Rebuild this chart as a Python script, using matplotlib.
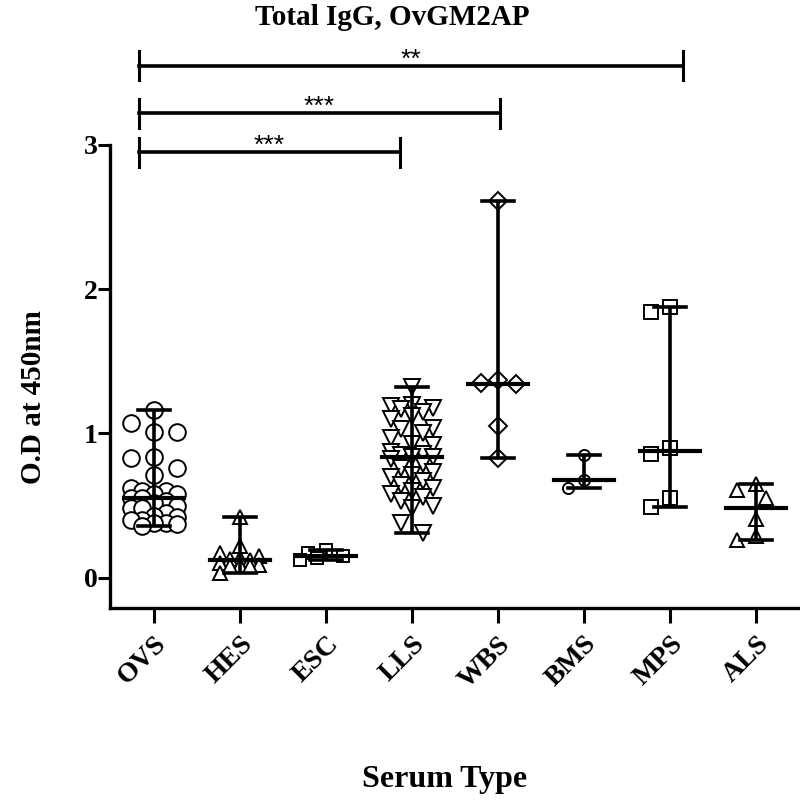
import numpy as np
import matplotlib.pyplot as plt

plt.rcParams['font.family'] = 'Liberation Serif'

# values (O.D at 450nm)
categories = ['OVS', 'HES', 'ESC', 'LLS', 'WBS', 'BMS', 'MPS', 'ALS']
ovs = [1.16, 1.07, 1.01, 1.01, 0.84, 0.83, 0.76, 0.71, 0.62, 0.60, 0.60, 0.58, 0.58,
       0.55, 0.55, 0.53, 0.52, 0.50, 0.48, 0.48, 0.45, 0.43, 0.42, 0.40, 0.40, 0.38,
       0.38, 0.37, 0.36]
hes = [0.42, 0.22, 0.17, 0.15, 0.14, 0.13, 0.12, 0.10, 0.09, 0.09, 0.08, 0.08, 0.03]
esc = [0.19, 0.17, 0.15, 0.14, 0.12]
lls = [1.32, 1.20, 1.19, 1.18, 1.17, 1.15, 1.12, 1.10, 1.04, 1.03, 1.00, 0.97, 0.93,
       0.92, 0.87, 0.86, 0.85, 0.84, 0.84, 0.82, 0.79, 0.76, 0.73, 0.71, 0.70, 0.67,
       0.64, 0.62, 0.60, 0.58, 0.56, 0.53, 0.50, 0.48, 0.38, 0.31]
wbs = [2.61, 1.37, 1.35, 1.34, 1.05, 0.83]
bms = [0.85, 0.68, 0.62]
mps = [1.88, 1.84, 0.90, 0.86, 0.55, 0.49]
als = [0.65, 0.61, 0.55, 0.41, 0.29, 0.26]
groups = [ovs, hes, esc, lls, wbs, bms, mps, als]

markers = ['o', '^', 's', 'v', 'D', 'o', 's', '^']
msizes = [12, 10, 9, 11, 9, 8, 10, 10]

# significance brackets: (from, to, label)
comparisons = [('OVS', 'LLS', '***'), ('OVS', 'WBS', '***'), ('OVS', 'MPS', '**')]
bracket_y = [2.95, 3.22, 3.55]
right_shift = [-0.14, 0.02, 0.15]

PX_X, PX_Y = 86.0, 144.3  # pixels per data unit


def swarm(vals, diam):
    # simple beeswarm: spread points sideways so they don't pile up
    vals = np.asarray(vals, dtype=float)
    order = np.argsort(vals)[::-1]
    step = 0.7 * diam
    cands = [0.0]
    for k in range(1, 6):
        cands += [-k * step, k * step]
    cands = [c for c in cands if abs(c) <= 27]
    placed = []
    xs = np.zeros(len(vals))
    for i in order:
        y = vals[i] * PX_Y
        best, best_d = 0.0, -1
        for c in cands:
            d = min([np.hypot(c - px, y - py) for px, py in placed] or [1e9])
            if d >= 1.1 * diam:
                best = c
                break
            if d > best_d:
                best, best_d = c, d
        placed.append((best, y))
        xs[i] = best / PX_X
    return xs


fig = plt.figure(figsize=(8, 8), dpi=100)
ax = fig.add_axes([0.1375, 0.24, 0.8625, 0.57875])

for i, vals in enumerate(groups):
    diam = msizes[i] * 100 / 72
    offs = swarm(vals, diam)
    ax.plot(i + offs, vals, linestyle='none', marker=markers[i], ms=msizes[i],
            mfc='white', mec='black', mew=1.4, zorder=2, clip_on=False)
    lo, hi, med = min(vals), max(vals), np.median(vals)
    ax.plot([i, i], [lo, hi], color='black', lw=2.6, zorder=3, solid_capstyle='butt')
    ax.plot([i - 0.19, i + 0.19], [lo, lo], color='black', lw=2.6, zorder=3)
    ax.plot([i - 0.19, i + 0.19], [hi, hi], color='black', lw=2.6, zorder=3)
    ax.plot([i - 0.35, i + 0.35], [med, med], color='black', lw=3, zorder=3)

for k, (a, b, lab) in enumerate(comparisons):
    x0 = categories.index(a) - 0.17
    x1 = categories.index(b) + right_shift[k]
    y = bracket_y[k]
    ax.plot([x0, x1], [y, y], color='black', lw=2.6, clip_on=False)
    for xe in (x0, x1):
        ax.plot([xe, xe], [y - 0.1, y + 0.1], color='black', lw=2.2, clip_on=False)
    ax.text((x0 + x1) / 2, y - 0.005, lab, ha='center', va='baseline', fontsize=19,
            family='Liberation Sans', clip_on=False)

ax.set_xlim(-0.51, 7.51)
ax.set_ylim(-0.21, 3.0)
ax.set_yticks([0, 1, 2, 3])
ax.set_xticks(range(len(categories)))
ax.set_xticklabels(categories, rotation=45, ha='right', rotation_mode='anchor',
                   fontsize=20, fontweight='bold')
ax.tick_params(axis='y', labelsize=20, width=2.2, length=9, pad=0)
ax.tick_params(axis='x', width=2.2, length=11, pad=6)
for lbl in ax.get_yticklabels():
    lbl.set_fontweight('bold')
for s in ['top', 'right']:
    ax.spines[s].set_visible(False)
for s in ['left', 'bottom']:
    ax.spines[s].set_linewidth(2.4)

ax.set_ylabel('O.D at 450nm', fontsize=21, fontweight='bold')
ax.yaxis.set_label_coords(-0.092, 0.456)

fig.text(0.49, 0.995, 'Total IgG, OvGM2AP', ha='center', va='top', fontsize=21,
         fontweight='bold')
fig.text(0.556, 0.025, 'Serum Type', ha='center', va='center', fontsize=23,
         fontweight='bold')

fig.savefig('out.png', dpi=100)
